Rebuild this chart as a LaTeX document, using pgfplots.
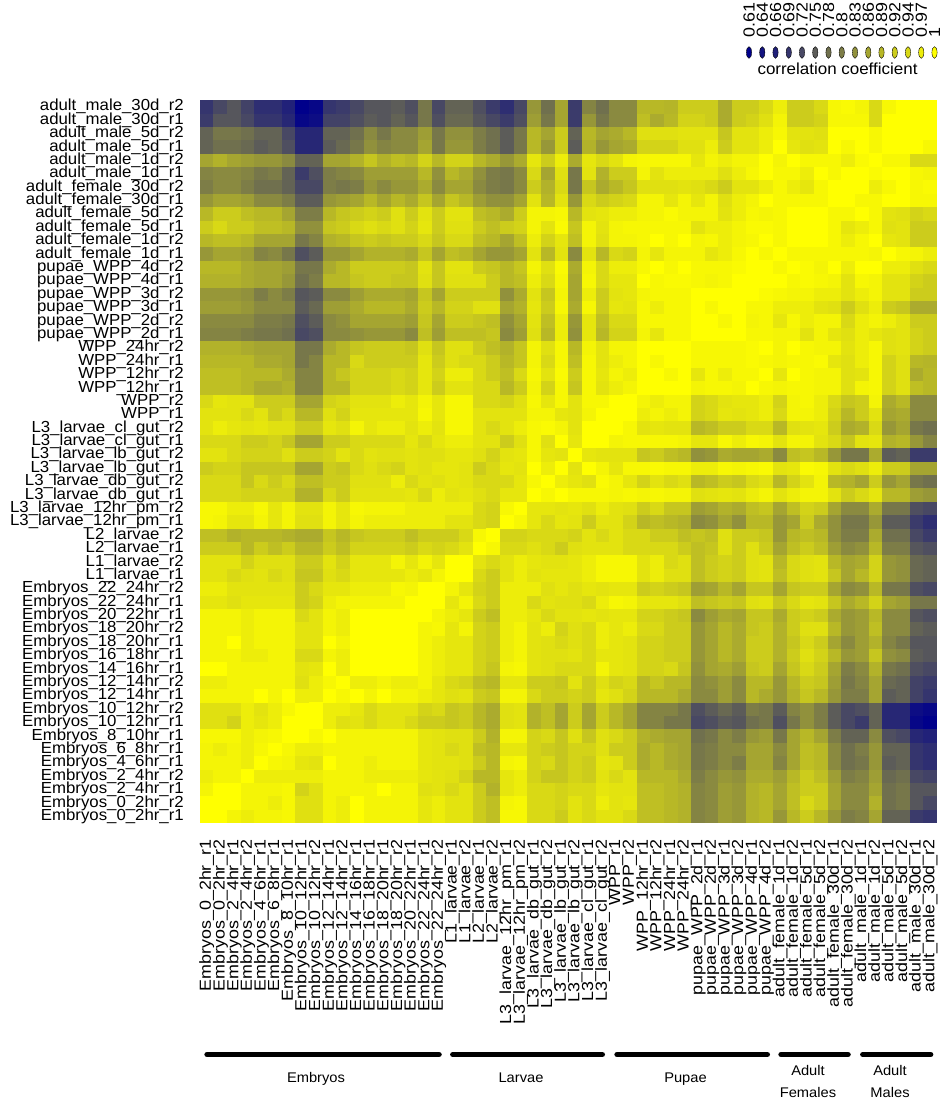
\documentclass[border=0pt]{standalone}
\usepackage{fontspec}
\setmainfont{Liberation Sans}
\usepackage{pgfplots}
\usepackage{pgfplotstable}
\pgfplotsset{compat=1.18}

% one heatmap cell (13.65 x 13.39 units, slightly oversized to avoid seams)
\pgfdeclareplotmark{cell}{%
  \pgfpathrectangle{\pgfpoint{-7.0pt}{-6.85pt}}{\pgfpoint{14.0pt}{13.7pt}}%
  \pgfusepathqfill}

\pgfplotsset{colormap={corr}{rgb255=(0,0,139) rgb255=(255,255,0)}}

% lower triangle (row i, column j <= i) of the sample correlation matrix
\pgfplotstableread[row sep=\\]{
i j v\\
0 0 1\\
1 0 1\\ 1 1 1\\
2 0 0.98\\ 2 1 1\\ 2 2 1\\
3 0 0.97\\ 3 1 0.98\\ 3 2 0.98\\ 3 3 1\\
4 0 0.98\\ 4 1 0.98\\ 4 2 0.98\\ 4 3 0.97\\ 4 4 1\\
5 0 0.98\\ 5 1 0.97\\ 5 2 0.98\\ 5 3 0.97\\ 5 4 0.985\\ 5 5 1\\
6 0 0.985\\ 6 1 0.985\\ 6 2 0.985\\ 6 3 0.97\\ 6 4 0.98\\ 6 5 0.985\\ 6 6 1\\
7 0 0.95\\ 7 1 0.95\\ 7 2 0.93\\ 7 3 0.97\\ 7 4 0.96\\ 7 5 0.97\\ 7 6 1\\ 7 7 1\\
8 0 0.95\\ 8 1 0.95\\ 8 2 0.95\\ 8 3 0.97\\ 8 4 0.955\\ 8 5 0.97\\ 8 6 0.985\\ 8 7 1\\ 8 8 1\\
9 0 0.98\\ 9 1 0.98\\ 9 2 0.98\\ 9 3 0.98\\ 9 4 1\\ 9 5 0.98\\ 9 6 1\\ 9 7 0.97\\ 9 8 0.97\\ 9 9 1\\
10 0 0.97\\ 10 1 0.97\\ 10 2 0.98\\ 10 3 0.98\\ 10 4 0.98\\ 10 5 0.98\\ 10 6 0.98\\ 10 7 0.95\\ 10 8 0.97\\ 10 9 0.985\\ 10 10 1\\
11 0 1\\ 11 1 1\\ 11 2 0.98\\ 11 3 0.98\\ 11 4 0.98\\ 11 5 0.98\\ 11 6 0.98\\ 11 7 0.955\\ 11 8 0.96\\ 11 9 1\\ 11 10 0.97\\ 11 11 1\\
12 0 0.98\\ 12 1 0.98\\ 12 2 0.98\\ 12 3 0.97\\ 12 4 0.97\\ 12 5 0.98\\ 12 6 0.98\\ 12 7 0.94\\ 12 8 0.94\\ 12 9 0.98\\ 12 10 0.97\\ 12 11 1\\ 12 12 1\\
13 0 0.98\\ 13 1 0.98\\ 13 2 1\\ 13 3 0.97\\ 13 4 0.98\\ 13 5 0.98\\ 13 6 0.98\\ 13 7 0.955\\ 13 8 0.955\\ 13 9 1\\ 13 10 0.98\\ 13 11 1\\ 13 12 1\\ 13 13 1\\
14 0 0.98\\ 14 1 0.98\\ 14 2 0.98\\ 14 3 0.97\\ 14 4 0.98\\ 14 5 0.98\\ 14 6 0.98\\ 14 7 0.955\\ 14 8 0.955\\ 14 9 0.98\\ 14 10 0.97\\ 14 11 1\\ 14 12 1\\ 14 13 1\\ 14 14 1\\
15 0 0.98\\ 15 1 0.98\\ 15 2 0.98\\ 15 3 0.97\\ 15 4 0.98\\ 15 5 0.98\\ 15 6 0.98\\ 15 7 0.94\\ 15 8 0.955\\ 15 9 0.98\\ 15 10 0.97\\ 15 11 1\\ 15 12 1\\ 15 13 1\\ 15 14 1\\ 15 15 1\\
16 0 0.96\\ 16 1 0.96\\ 16 2 0.95\\ 16 3 0.96\\ 16 4 0.96\\ 16 5 0.96\\ 16 6 0.96\\ 16 7 0.92\\ 16 8 0.93\\ 16 9 0.97\\ 16 10 0.98\\ 16 11 0.98\\ 16 12 0.98\\ 16 13 0.98\\ 16 14 0.98\\ 16 15 1\\ 16 16 1\\
17 0 0.97\\ 17 1 0.97\\ 17 2 0.955\\ 17 3 0.955\\ 17 4 0.955\\ 17 5 0.955\\ 17 6 0.955\\ 17 7 0.92\\ 17 8 0.94\\ 17 9 0.96\\ 17 10 0.96\\ 17 11 0.97\\ 17 12 0.97\\ 17 13 0.97\\ 17 14 0.985\\ 17 15 0.98\\ 17 16 1\\ 17 17 1\\
18 0 0.955\\ 18 1 0.955\\ 18 2 0.94\\ 18 3 0.95\\ 18 4 0.955\\ 18 5 0.94\\ 18 6 0.95\\ 18 7 0.91\\ 18 8 0.91\\ 18 9 0.95\\ 18 10 0.94\\ 18 11 0.96\\ 18 12 0.96\\ 18 13 0.96\\ 18 14 0.96\\ 18 15 0.97\\ 18 16 0.96\\ 18 17 0.98\\ 18 18 1\\
19 0 0.955\\ 19 1 0.955\\ 19 2 0.955\\ 19 3 0.93\\ 19 4 0.95\\ 19 5 0.95\\ 19 6 0.95\\ 19 7 0.92\\ 19 8 0.92\\ 19 9 0.955\\ 19 10 0.93\\ 19 11 0.96\\ 19 12 0.96\\ 19 13 0.96\\ 19 14 0.98\\ 19 15 0.96\\ 19 16 0.98\\ 19 17 0.96\\ 19 18 1\\ 19 19 1\\
20 0 0.92\\ 20 1 0.92\\ 20 2 0.92\\ 20 3 0.89\\ 20 4 0.92\\ 20 5 0.90\\ 20 6 0.92\\ 20 7 0.89\\ 20 8 0.89\\ 20 9 0.92\\ 20 10 0.90\\ 20 11 0.93\\ 20 12 0.93\\ 20 13 0.93\\ 20 14 0.93\\ 20 15 0.92\\ 20 16 0.94\\ 20 17 0.93\\ 20 18 0.94\\ 20 19 0.955\\ 20 20 1\\
21 0 0.90\\ 21 1 0.90\\ 21 2 0.88\\ 21 3 0.89\\ 21 4 0.89\\ 21 5 0.89\\ 21 6 0.88\\ 21 7 0.87\\ 21 8 0.87\\ 21 9 0.91\\ 21 10 0.89\\ 21 11 0.91\\ 21 12 0.92\\ 21 13 0.92\\ 21 14 0.92\\ 21 15 0.90\\ 21 16 0.92\\ 21 17 0.92\\ 21 18 0.92\\ 21 19 0.94\\ 21 20 0.985\\ 21 21 1\\
22 0 0.985\\ 22 1 0.98\\ 22 2 0.96\\ 22 3 0.96\\ 22 4 0.98\\ 22 5 0.96\\ 22 6 0.98\\ 22 7 0.95\\ 22 8 0.95\\ 22 9 0.98\\ 22 10 0.96\\ 22 11 0.98\\ 22 12 0.97\\ 22 13 0.97\\ 22 14 0.97\\ 22 15 0.97\\ 22 16 0.97\\ 22 17 0.97\\ 22 18 0.955\\ 22 19 0.955\\ 22 20 0.94\\ 22 21 0.93\\ 22 22 1\\
23 0 0.985\\ 23 1 0.985\\ 23 2 0.97\\ 23 3 0.97\\ 23 4 0.985\\ 23 5 0.96\\ 23 6 0.98\\ 23 7 0.955\\ 23 8 0.955\\ 23 9 0.98\\ 23 10 0.96\\ 23 11 0.985\\ 23 12 0.98\\ 23 13 0.98\\ 23 14 0.98\\ 23 15 0.97\\ 23 16 0.97\\ 23 17 0.97\\ 23 18 0.97\\ 23 19 0.97\\ 23 20 0.94\\ 23 21 0.93\\ 23 22 0.985\\ 23 23 1\\
24 0 0.94\\ 24 1 0.94\\ 24 2 0.94\\ 24 3 0.93\\ 24 4 0.93\\ 24 5 0.93\\ 24 6 0.93\\ 24 7 0.88\\ 24 8 0.88\\ 24 9 0.94\\ 24 10 0.92\\ 24 11 0.955\\ 24 12 0.955\\ 24 13 0.955\\ 24 14 0.955\\ 24 15 0.96\\ 24 16 0.94\\ 24 17 0.97\\ 24 18 0.955\\ 24 19 0.96\\ 24 20 0.95\\ 24 21 0.94\\ 24 22 0.96\\ 24 23 0.96\\ 24 24 1\\
25 0 0.94\\ 25 1 0.94\\ 25 2 0.94\\ 25 3 0.91\\ 25 4 0.94\\ 25 5 0.92\\ 25 6 0.94\\ 25 7 0.90\\ 25 8 0.90\\ 25 9 0.92\\ 25 10 0.92\\ 25 11 0.95\\ 25 12 0.95\\ 25 13 0.95\\ 25 14 0.97\\ 25 15 0.94\\ 25 16 0.955\\ 25 17 0.95\\ 25 18 0.96\\ 25 19 0.955\\ 25 20 0.94\\ 25 21 0.94\\ 25 22 0.94\\ 25 23 0.96\\ 25 24 0.985\\ 25 25 1\\
26 0 0.92\\ 26 1 0.93\\ 26 2 0.93\\ 26 3 0.91\\ 26 4 0.91\\ 26 5 0.91\\ 26 6 0.91\\ 26 7 0.86\\ 26 8 0.86\\ 26 9 0.92\\ 26 10 0.91\\ 26 11 0.94\\ 26 12 0.95\\ 26 13 0.94\\ 26 14 0.93\\ 26 15 0.955\\ 26 16 0.95\\ 26 17 0.96\\ 26 18 0.96\\ 26 19 0.955\\ 26 20 0.92\\ 26 21 0.94\\ 26 22 0.96\\ 26 23 0.955\\ 26 24 1\\ 26 25 0.97\\ 26 26 1\\
27 0 0.955\\ 27 1 0.955\\ 27 2 0.94\\ 27 3 0.93\\ 27 4 0.93\\ 27 5 0.93\\ 27 6 0.95\\ 27 7 0.92\\ 27 8 0.92\\ 27 9 0.93\\ 27 10 0.955\\ 27 11 0.94\\ 27 12 0.955\\ 27 13 0.95\\ 27 14 0.95\\ 27 15 0.955\\ 27 16 0.95\\ 27 17 0.95\\ 27 18 0.96\\ 27 19 0.96\\ 27 20 0.95\\ 27 21 0.93\\ 27 22 0.955\\ 27 23 0.96\\ 27 24 0.985\\ 27 25 0.96\\ 27 26 0.955\\ 27 27 1\\
28 0 0.94\\ 28 1 0.94\\ 28 2 0.94\\ 28 3 0.92\\ 28 4 0.92\\ 28 5 0.93\\ 28 6 0.91\\ 28 7 0.86\\ 28 8 0.86\\ 28 9 0.92\\ 28 10 0.92\\ 28 11 0.94\\ 28 12 0.94\\ 28 13 0.94\\ 28 14 0.94\\ 28 15 0.96\\ 28 16 0.94\\ 28 17 0.96\\ 28 18 0.97\\ 28 19 0.97\\ 28 20 0.955\\ 28 21 0.955\\ 28 22 0.92\\ 28 23 0.95\\ 28 24 0.985\\ 28 25 0.95\\ 28 26 1\\ 28 27 0.96\\ 28 28 1\\
29 0 0.955\\ 29 1 0.97\\ 29 2 0.96\\ 29 3 0.955\\ 29 4 0.96\\ 29 5 0.95\\ 29 6 0.95\\ 29 7 0.92\\ 29 8 0.92\\ 29 9 0.96\\ 29 10 0.95\\ 29 11 0.98\\ 29 12 0.96\\ 29 13 0.97\\ 29 14 0.97\\ 29 15 0.955\\ 29 16 0.97\\ 29 17 0.955\\ 29 18 0.985\\ 29 19 0.985\\ 29 20 0.955\\ 29 21 0.94\\ 29 22 0.955\\ 29 23 0.97\\ 29 24 0.985\\ 29 25 0.99\\ 29 26 0.98\\ 29 27 0.955\\ 29 28 1\\ 29 29 1\\
30 0 0.955\\ 30 1 0.955\\ 30 2 0.955\\ 30 3 0.94\\ 30 4 0.955\\ 30 5 0.92\\ 30 6 0.94\\ 30 7 0.89\\ 30 8 0.89\\ 30 9 0.95\\ 30 10 0.93\\ 30 11 0.96\\ 30 12 0.96\\ 30 13 0.96\\ 30 14 0.96\\ 30 15 0.96\\ 30 16 0.985\\ 30 17 0.96\\ 30 18 0.985\\ 30 19 0.985\\ 30 20 0.955\\ 30 21 0.955\\ 30 22 0.955\\ 30 23 0.955\\ 30 24 0.98\\ 30 25 0.98\\ 30 26 0.96\\ 30 27 0.955\\ 30 28 0.98\\ 30 29 1\\ 30 30 1\\
31 0 0.94\\ 31 1 0.96\\ 31 2 0.955\\ 31 3 0.955\\ 31 4 0.92\\ 31 5 0.92\\ 31 6 0.92\\ 31 7 0.86\\ 31 8 0.86\\ 31 9 0.93\\ 31 10 0.94\\ 31 11 0.955\\ 31 12 0.955\\ 31 13 0.955\\ 31 14 0.97\\ 31 15 0.96\\ 31 16 0.98\\ 31 17 0.96\\ 31 18 0.985\\ 31 19 0.985\\ 31 20 0.94\\ 31 21 0.94\\ 31 22 0.93\\ 31 23 0.95\\ 31 24 0.985\\ 31 25 0.96\\ 31 26 0.985\\ 31 27 0.955\\ 31 28 0.985\\ 31 29 0.985\\ 31 30 1\\ 31 31 1\\
32 0 0.90\\ 32 1 0.90\\ 32 2 0.90\\ 32 3 0.89\\ 32 4 0.87\\ 32 5 0.87\\ 32 6 0.88\\ 32 7 0.81\\ 32 8 0.81\\ 32 9 0.89\\ 32 10 0.89\\ 32 11 0.93\\ 32 12 0.93\\ 32 13 0.93\\ 32 14 0.94\\ 32 15 0.93\\ 32 16 0.96\\ 32 17 0.92\\ 32 18 0.955\\ 32 19 0.955\\ 32 20 0.94\\ 32 21 0.94\\ 32 22 0.89\\ 32 23 0.92\\ 32 24 0.98\\ 32 25 0.93\\ 32 26 0.985\\ 32 27 0.91\\ 32 28 0.985\\ 32 29 0.955\\ 32 30 0.97\\ 32 31 0.98\\ 32 32 1\\
33 0 0.90\\ 33 1 0.90\\ 33 2 0.90\\ 33 3 0.89\\ 33 4 0.89\\ 33 5 0.89\\ 33 6 0.87\\ 33 7 0.81\\ 33 8 0.81\\ 33 9 0.89\\ 33 10 0.91\\ 33 11 0.93\\ 33 12 0.93\\ 33 13 0.93\\ 33 14 0.94\\ 33 15 0.93\\ 33 16 0.96\\ 33 17 0.93\\ 33 18 0.97\\ 33 19 0.97\\ 33 20 0.94\\ 33 21 0.92\\ 33 22 0.90\\ 33 23 0.94\\ 33 24 0.985\\ 33 25 0.955\\ 33 26 0.99\\ 33 27 0.92\\ 33 28 0.985\\ 33 29 0.96\\ 33 30 0.98\\ 33 31 0.97\\ 33 32 1\\ 33 33 1\\
34 0 0.89\\ 34 1 0.89\\ 34 2 0.89\\ 34 3 0.89\\ 34 4 0.87\\ 34 5 0.87\\ 34 6 0.86\\ 34 7 0.79\\ 34 8 0.81\\ 34 9 0.89\\ 34 10 0.89\\ 34 11 0.94\\ 34 12 0.92\\ 34 13 0.92\\ 34 14 0.92\\ 34 15 0.92\\ 34 16 0.96\\ 34 17 0.92\\ 34 18 0.95\\ 34 19 0.94\\ 34 20 0.94\\ 34 21 0.92\\ 34 22 0.89\\ 34 23 0.91\\ 34 24 0.98\\ 34 25 0.94\\ 34 26 0.985\\ 34 27 0.90\\ 34 28 0.985\\ 34 29 0.955\\ 34 30 0.97\\ 34 31 0.98\\ 34 32 1\\ 34 33 0.985\\ 34 34 1\\
35 0 0.88\\ 35 1 0.88\\ 35 2 0.88\\ 35 3 0.87\\ 35 4 0.86\\ 35 5 0.86\\ 35 6 0.86\\ 35 7 0.79\\ 35 8 0.79\\ 35 9 0.87\\ 35 10 0.89\\ 35 11 0.91\\ 35 12 0.92\\ 35 13 0.92\\ 35 14 0.92\\ 35 15 0.91\\ 35 16 0.95\\ 35 17 0.91\\ 35 18 0.95\\ 35 19 0.95\\ 35 20 0.92\\ 35 21 0.90\\ 35 22 0.88\\ 35 23 0.91\\ 35 24 0.98\\ 35 25 0.95\\ 35 26 0.985\\ 35 27 0.89\\ 35 28 0.98\\ 35 29 0.955\\ 35 30 0.98\\ 35 31 0.98\\ 35 32 1\\ 35 33 1\\ 35 34 1\\ 35 35 1\\
36 0 0.81\\ 36 1 0.81\\ 36 2 0.81\\ 36 3 0.80\\ 36 4 0.79\\ 36 5 0.79\\ 36 6 0.78\\ 36 7 0.72\\ 36 8 0.73\\ 36 9 0.82\\ 36 10 0.82\\ 36 11 0.83\\ 36 12 0.84\\ 36 13 0.84\\ 36 14 0.84\\ 36 15 0.82\\ 36 16 0.90\\ 36 17 0.85\\ 36 18 0.90\\ 36 19 0.90\\ 36 20 0.90\\ 36 21 0.91\\ 36 22 0.82\\ 36 23 0.85\\ 36 24 0.95\\ 36 25 0.89\\ 36 26 0.97\\ 36 27 0.83\\ 36 28 0.96\\ 36 29 0.89\\ 36 30 0.93\\ 36 31 0.93\\ 36 32 0.98\\ 36 33 0.96\\ 36 34 0.985\\ 36 35 0.985\\ 36 36 1\\
37 0 0.82\\ 37 1 0.82\\ 37 2 0.82\\ 37 3 0.82\\ 37 4 0.80\\ 37 5 0.80\\ 37 6 0.79\\ 37 7 0.73\\ 37 8 0.75\\ 37 9 0.82\\ 37 10 0.83\\ 37 11 0.86\\ 37 12 0.86\\ 37 13 0.86\\ 37 14 0.86\\ 37 15 0.85\\ 37 16 0.91\\ 37 17 0.86\\ 37 18 0.92\\ 37 19 0.92\\ 37 20 0.91\\ 37 21 0.90\\ 37 22 0.83\\ 37 23 0.86\\ 37 24 0.955\\ 37 25 0.90\\ 37 26 0.97\\ 37 27 0.84\\ 37 28 0.96\\ 37 29 0.90\\ 37 30 0.94\\ 37 31 0.94\\ 37 32 0.985\\ 37 33 0.985\\ 37 34 0.985\\ 37 35 0.985\\ 37 36 1\\ 37 37 1\\
38 0 0.85\\ 38 1 0.85\\ 38 2 0.85\\ 38 3 0.84\\ 38 4 0.82\\ 38 5 0.82\\ 38 6 0.82\\ 38 7 0.75\\ 38 8 0.77\\ 38 9 0.85\\ 38 10 0.85\\ 38 11 0.87\\ 38 12 0.89\\ 38 13 0.89\\ 38 14 0.89\\ 38 15 0.87\\ 38 16 0.92\\ 38 17 0.89\\ 38 18 0.93\\ 38 19 0.93\\ 38 20 0.95\\ 38 21 0.95\\ 38 22 0.86\\ 38 23 0.88\\ 38 24 0.96\\ 38 25 0.92\\ 38 26 0.985\\ 38 27 0.87\\ 38 28 0.985\\ 38 29 0.92\\ 38 30 0.96\\ 38 31 0.955\\ 38 32 0.985\\ 38 33 0.97\\ 38 34 0.985\\ 38 35 0.985\\ 38 36 1\\ 38 37 0.985\\ 38 38 1\\
39 0 0.84\\ 39 1 0.84\\ 39 2 0.84\\ 39 3 0.83\\ 39 4 0.80\\ 39 5 0.82\\ 39 6 0.80\\ 39 7 0.74\\ 39 8 0.75\\ 39 9 0.82\\ 39 10 0.82\\ 39 11 0.85\\ 39 12 0.87\\ 39 13 0.87\\ 39 14 0.87\\ 39 15 0.86\\ 39 16 0.91\\ 39 17 0.86\\ 39 18 0.92\\ 39 19 0.92\\ 39 20 0.92\\ 39 21 0.92\\ 39 22 0.83\\ 39 23 0.87\\ 39 24 0.955\\ 39 25 0.91\\ 39 26 0.98\\ 39 27 0.86\\ 39 28 0.97\\ 39 29 0.92\\ 39 30 0.955\\ 39 31 0.96\\ 39 32 0.98\\ 39 33 0.985\\ 39 34 0.985\\ 39 35 0.985\\ 39 36 1\\ 39 37 1\\ 39 38 1\\ 39 39 1\\
40 0 0.88\\ 40 1 0.88\\ 40 2 0.88\\ 40 3 0.87\\ 40 4 0.86\\ 40 5 0.86\\ 40 6 0.84\\ 40 7 0.78\\ 40 8 0.80\\ 40 9 0.89\\ 40 10 0.89\\ 40 11 0.91\\ 40 12 0.92\\ 40 13 0.92\\ 40 14 0.91\\ 40 15 0.91\\ 40 16 0.95\\ 40 17 0.91\\ 40 18 0.95\\ 40 19 0.95\\ 40 20 0.95\\ 40 21 0.92\\ 40 22 0.89\\ 40 23 0.90\\ 40 24 0.97\\ 40 25 0.94\\ 40 26 0.985\\ 40 27 0.86\\ 40 28 0.985\\ 40 29 0.94\\ 40 30 0.96\\ 40 31 0.96\\ 40 32 1\\ 40 33 0.985\\ 40 34 0.99\\ 40 35 0.99\\ 40 36 0.985\\ 40 37 0.98\\ 40 38 0.985\\ 40 39 1\\ 40 40 1\\
41 0 0.89\\ 41 1 0.89\\ 41 2 0.89\\ 41 3 0.87\\ 41 4 0.86\\ 41 5 0.86\\ 41 6 0.85\\ 41 7 0.79\\ 41 8 0.79\\ 41 9 0.87\\ 41 10 0.89\\ 41 11 0.92\\ 41 12 0.92\\ 41 13 0.92\\ 41 14 0.92\\ 41 15 0.91\\ 41 16 0.955\\ 41 17 0.91\\ 41 18 0.955\\ 41 19 0.955\\ 41 20 0.92\\ 41 21 0.91\\ 41 22 0.89\\ 41 23 0.91\\ 41 24 0.98\\ 41 25 0.95\\ 41 26 0.99\\ 41 27 0.87\\ 41 28 0.98\\ 41 29 0.94\\ 41 30 0.97\\ 41 31 0.97\\ 41 32 0.985\\ 41 33 1\\ 41 34 0.985\\ 41 35 1\\ 41 36 0.985\\ 41 37 0.985\\ 41 38 0.985\\ 41 39 0.99\\ 41 40 1\\ 41 41 1\\
42 0 0.84\\ 42 1 0.86\\ 42 2 0.86\\ 42 3 0.85\\ 42 4 0.81\\ 42 5 0.82\\ 42 6 0.79\\ 42 7 0.73\\ 42 8 0.75\\ 42 9 0.84\\ 42 10 0.84\\ 42 11 0.86\\ 42 12 0.88\\ 42 13 0.88\\ 42 14 0.88\\ 42 15 0.87\\ 42 16 0.91\\ 42 17 0.86\\ 42 18 0.90\\ 42 19 0.89\\ 42 20 0.86\\ 42 21 0.84\\ 42 22 0.84\\ 42 23 0.86\\ 42 24 0.955\\ 42 25 0.89\\ 42 26 0.955\\ 42 27 0.82\\ 42 28 0.955\\ 42 29 0.89\\ 42 30 0.94\\ 42 31 0.93\\ 42 32 0.98\\ 42 33 0.96\\ 42 34 0.98\\ 42 35 0.98\\ 42 36 0.98\\ 42 37 0.96\\ 42 38 0.97\\ 42 39 0.985\\ 42 40 1\\ 42 41 0.985\\ 42 42 1\\
43 0 0.89\\ 43 1 0.90\\ 43 2 0.90\\ 43 3 0.89\\ 43 4 0.86\\ 43 5 0.86\\ 43 6 0.86\\ 43 7 0.79\\ 43 8 0.81\\ 43 9 0.88\\ 43 10 0.89\\ 43 11 0.91\\ 43 12 0.92\\ 43 13 0.91\\ 43 14 0.92\\ 43 15 0.92\\ 43 16 0.94\\ 43 17 0.91\\ 43 18 0.94\\ 43 19 0.94\\ 43 20 0.90\\ 43 21 0.89\\ 43 22 0.86\\ 43 23 0.90\\ 43 24 0.97\\ 43 25 0.93\\ 43 26 0.96\\ 43 27 0.90\\ 43 28 0.98\\ 43 29 0.95\\ 43 30 0.98\\ 43 31 0.98\\ 43 32 0.985\\ 43 33 1\\ 43 34 0.985\\ 43 35 1\\ 43 36 0.98\\ 43 37 0.985\\ 43 38 0.97\\ 43 39 0.98\\ 43 40 0.985\\ 43 41 1\\ 43 42 0.985\\ 43 43 1\\
44 0 0.92\\ 44 1 0.94\\ 44 2 0.92\\ 44 3 0.92\\ 44 4 0.90\\ 44 5 0.90\\ 44 6 0.89\\ 44 7 0.83\\ 44 8 0.83\\ 44 9 0.91\\ 44 10 0.92\\ 44 11 0.94\\ 44 12 0.95\\ 44 13 0.94\\ 44 14 0.95\\ 44 15 0.93\\ 44 16 0.96\\ 44 17 0.92\\ 44 18 0.95\\ 44 19 0.95\\ 44 20 0.92\\ 44 21 0.90\\ 44 22 0.92\\ 44 23 0.93\\ 44 24 0.98\\ 44 25 0.955\\ 44 26 0.99\\ 44 27 0.91\\ 44 28 0.98\\ 44 29 0.955\\ 44 30 0.98\\ 44 31 0.985\\ 44 32 0.985\\ 44 33 0.985\\ 44 34 0.985\\ 44 35 0.985\\ 44 36 0.955\\ 44 37 0.97\\ 44 38 0.97\\ 44 39 0.98\\ 44 40 0.99\\ 44 41 0.99\\ 44 42 0.985\\ 44 43 1\\ 44 44 1\\
45 0 0.89\\ 45 1 0.92\\ 45 2 0.92\\ 45 3 0.90\\ 45 4 0.89\\ 45 5 0.89\\ 45 6 0.86\\ 45 7 0.80\\ 45 8 0.80\\ 45 9 0.89\\ 45 10 0.91\\ 45 11 0.92\\ 45 12 0.93\\ 45 13 0.92\\ 45 14 0.95\\ 45 15 0.92\\ 45 16 0.955\\ 45 17 0.92\\ 45 18 0.955\\ 45 19 0.955\\ 45 20 0.90\\ 45 21 0.89\\ 45 22 0.87\\ 45 23 0.92\\ 45 24 0.98\\ 45 25 0.98\\ 45 26 0.985\\ 45 27 0.89\\ 45 28 0.955\\ 45 29 0.96\\ 45 30 0.97\\ 45 31 0.97\\ 45 32 0.98\\ 45 33 0.98\\ 45 34 0.99\\ 45 35 0.98\\ 45 36 0.98\\ 45 37 0.98\\ 45 38 0.955\\ 45 39 0.97\\ 45 40 0.985\\ 45 41 0.98\\ 45 42 0.985\\ 45 43 1\\ 45 44 1\\ 45 45 1\\
46 0 0.84\\ 46 1 0.86\\ 46 2 0.86\\ 46 3 0.85\\ 46 4 0.82\\ 46 5 0.82\\ 46 6 0.80\\ 46 7 0.75\\ 46 8 0.75\\ 46 9 0.84\\ 46 10 0.85\\ 46 11 0.86\\ 46 12 0.89\\ 46 13 0.86\\ 46 14 0.89\\ 46 15 0.87\\ 46 16 0.91\\ 46 17 0.86\\ 46 18 0.91\\ 46 19 0.89\\ 46 20 0.85\\ 46 21 0.83\\ 46 22 0.83\\ 46 23 0.86\\ 46 24 0.955\\ 46 25 0.89\\ 46 26 0.955\\ 46 27 0.84\\ 46 28 0.94\\ 46 29 0.92\\ 46 30 0.93\\ 46 31 0.94\\ 46 32 0.98\\ 46 33 0.98\\ 46 34 0.96\\ 46 35 0.98\\ 46 36 0.96\\ 46 37 0.98\\ 46 38 0.95\\ 46 39 0.97\\ 46 40 0.98\\ 46 41 1\\ 46 42 0.985\\ 46 43 0.985\\ 46 44 0.985\\ 46 45 0.985\\ 46 46 1\\
47 0 0.80\\ 47 1 0.82\\ 47 2 0.82\\ 47 3 0.80\\ 47 4 0.78\\ 47 5 0.78\\ 47 6 0.76\\ 47 7 0.72\\ 47 8 0.72\\ 47 9 0.80\\ 47 10 0.79\\ 47 11 0.80\\ 47 12 0.84\\ 47 13 0.82\\ 47 14 0.84\\ 47 15 0.84\\ 47 16 0.87\\ 47 17 0.82\\ 47 18 0.86\\ 47 19 0.86\\ 47 20 0.82\\ 47 21 0.80\\ 47 22 0.79\\ 47 23 0.82\\ 47 24 0.92\\ 47 25 0.88\\ 47 26 0.94\\ 47 27 0.79\\ 47 28 0.91\\ 47 29 0.87\\ 47 30 0.89\\ 47 31 0.91\\ 47 32 0.95\\ 47 33 0.95\\ 47 34 0.95\\ 47 35 0.955\\ 47 36 0.95\\ 47 37 0.94\\ 47 38 0.92\\ 47 39 0.955\\ 47 40 0.955\\ 47 41 0.97\\ 47 42 0.985\\ 47 43 0.97\\ 47 44 0.96\\ 47 45 0.985\\ 47 46 1\\ 47 47 1\\
48 0 0.81\\ 48 1 0.82\\ 48 2 0.82\\ 48 3 0.81\\ 48 4 0.79\\ 48 5 0.80\\ 48 6 0.76\\ 48 7 0.70\\ 48 8 0.73\\ 48 9 0.80\\ 48 10 0.81\\ 48 11 0.82\\ 48 12 0.85\\ 48 13 0.85\\ 48 14 0.85\\ 48 15 0.85\\ 48 16 0.89\\ 48 17 0.83\\ 48 18 0.89\\ 48 19 0.87\\ 48 20 0.83\\ 48 21 0.80\\ 48 22 0.79\\ 48 23 0.82\\ 48 24 0.94\\ 48 25 0.86\\ 48 26 0.95\\ 48 27 0.79\\ 48 28 0.955\\ 48 29 0.88\\ 48 30 0.92\\ 48 31 0.92\\ 48 32 0.98\\ 48 33 0.955\\ 48 34 0.97\\ 48 35 0.97\\ 48 36 0.97\\ 48 37 0.97\\ 48 38 0.95\\ 48 39 0.97\\ 48 40 0.985\\ 48 41 1\\ 48 42 0.985\\ 48 43 0.985\\ 48 44 0.97\\ 48 45 1\\ 48 46 0.985\\ 48 47 1\\ 48 48 1\\
49 0 0.86\\ 49 1 0.88\\ 49 2 0.86\\ 49 3 0.85\\ 49 4 0.84\\ 49 5 0.84\\ 49 6 0.82\\ 49 7 0.76\\ 49 8 0.76\\ 49 9 0.86\\ 49 10 0.86\\ 49 11 0.88\\ 49 12 0.91\\ 49 13 0.88\\ 49 14 0.90\\ 49 15 0.89\\ 49 16 0.93\\ 49 17 0.89\\ 49 18 0.93\\ 49 19 0.93\\ 49 20 0.89\\ 49 21 0.87\\ 49 22 0.84\\ 49 23 0.87\\ 49 24 0.96\\ 49 25 0.92\\ 49 26 0.97\\ 49 27 0.87\\ 49 28 0.96\\ 49 29 0.94\\ 49 30 0.955\\ 49 31 0.98\\ 49 32 0.985\\ 49 33 0.985\\ 49 34 0.985\\ 49 35 0.985\\ 49 36 0.96\\ 49 37 0.98\\ 49 38 0.97\\ 49 39 0.98\\ 49 40 0.98\\ 49 41 1\\ 49 42 0.98\\ 49 43 1\\ 49 44 0.985\\ 49 45 0.985\\ 49 46 0.985\\ 49 47 0.97\\ 49 48 0.99\\ 49 49 1\\
50 0 0.76\\ 50 1 0.78\\ 50 2 0.78\\ 50 3 0.77\\ 50 4 0.75\\ 50 5 0.76\\ 50 6 0.73\\ 50 7 0.67\\ 50 8 0.67\\ 50 9 0.75\\ 50 10 0.77\\ 50 11 0.79\\ 50 12 0.83\\ 50 13 0.81\\ 50 14 0.82\\ 50 15 0.82\\ 50 16 0.86\\ 50 17 0.79\\ 50 18 0.84\\ 50 19 0.84\\ 50 20 0.80\\ 50 21 0.78\\ 50 22 0.75\\ 50 23 0.79\\ 50 24 0.89\\ 50 25 0.84\\ 50 26 0.92\\ 50 27 0.75\\ 50 28 0.88\\ 50 29 0.84\\ 50 30 0.86\\ 50 31 0.87\\ 50 32 0.93\\ 50 33 0.93\\ 50 34 0.93\\ 50 35 0.95\\ 50 36 0.95\\ 50 37 0.97\\ 50 38 0.92\\ 50 39 0.955\\ 50 40 0.955\\ 50 41 0.97\\ 50 42 1\\ 50 43 0.96\\ 50 44 0.95\\ 50 45 0.955\\ 50 46 1\\ 50 47 0.985\\ 50 48 1\\ 50 49 0.985\\ 50 50 1\\
51 0 0.76\\ 51 1 0.79\\ 51 2 0.79\\ 51 3 0.78\\ 51 4 0.76\\ 51 5 0.76\\ 51 6 0.72\\ 51 7 0.67\\ 51 8 0.67\\ 51 9 0.76\\ 51 10 0.76\\ 51 11 0.78\\ 51 12 0.82\\ 51 13 0.79\\ 51 14 0.82\\ 51 15 0.82\\ 51 16 0.85\\ 51 17 0.79\\ 51 18 0.83\\ 51 19 0.83\\ 51 20 0.80\\ 51 21 0.78\\ 51 22 0.75\\ 51 23 0.79\\ 51 24 0.89\\ 51 25 0.86\\ 51 26 0.92\\ 51 27 0.76\\ 51 28 0.89\\ 51 29 0.86\\ 51 30 0.87\\ 51 31 0.89\\ 51 32 0.95\\ 51 33 0.95\\ 51 34 0.95\\ 51 35 0.955\\ 51 36 0.955\\ 51 37 0.955\\ 51 38 0.91\\ 51 39 0.955\\ 51 40 0.955\\ 51 41 0.97\\ 51 42 0.985\\ 51 43 0.955\\ 51 44 0.955\\ 51 45 0.95\\ 51 46 1\\ 51 47 1\\ 51 48 1\\ 51 49 0.985\\ 51 50 1\\ 51 51 1\\
52 0 0.70\\ 52 1 0.74\\ 52 2 0.74\\ 52 3 0.72\\ 52 4 0.69\\ 52 5 0.69\\ 52 6 0.67\\ 52 7 0.62\\ 52 8 0.63\\ 52 9 0.71\\ 52 10 0.71\\ 52 11 0.73\\ 52 12 0.75\\ 52 13 0.74\\ 52 14 0.76\\ 52 15 0.74\\ 52 16 0.79\\ 52 17 0.73\\ 52 18 0.77\\ 52 19 0.77\\ 52 20 0.74\\ 52 21 0.72\\ 52 22 0.70\\ 52 23 0.73\\ 52 24 0.85\\ 52 25 0.79\\ 52 26 0.86\\ 52 27 0.70\\ 52 28 0.84\\ 52 29 0.79\\ 52 30 0.82\\ 52 31 0.82\\ 52 32 0.90\\ 52 33 0.87\\ 52 34 0.89\\ 52 35 0.93\\ 52 36 0.93\\ 52 37 0.92\\ 52 38 0.87\\ 52 39 0.92\\ 52 40 0.93\\ 52 41 0.95\\ 52 42 0.98\\ 52 43 0.92\\ 52 44 0.92\\ 52 45 0.93\\ 52 46 0.985\\ 52 47 0.985\\ 52 48 0.985\\ 52 49 0.94\\ 52 50 1\\ 52 51 1\\ 52 52 1\\
53 0 0.69\\ 53 1 0.72\\ 53 2 0.74\\ 53 3 0.71\\ 53 4 0.68\\ 53 5 0.68\\ 53 6 0.66\\ 53 7 0.61\\ 53 8 0.62\\ 53 9 0.69\\ 53 10 0.70\\ 53 11 0.72\\ 53 12 0.74\\ 53 13 0.74\\ 53 14 0.75\\ 53 15 0.73\\ 53 16 0.79\\ 53 17 0.72\\ 53 18 0.76\\ 53 19 0.76\\ 53 20 0.73\\ 53 21 0.70\\ 53 22 0.68\\ 53 23 0.72\\ 53 24 0.84\\ 53 25 0.78\\ 53 26 0.86\\ 53 27 0.70\\ 53 28 0.81\\ 53 29 0.78\\ 53 30 0.82\\ 53 31 0.82\\ 53 32 0.89\\ 53 33 0.89\\ 53 34 0.885\\ 53 35 0.92\\ 53 36 0.92\\ 53 37 0.92\\ 53 38 0.87\\ 53 39 0.92\\ 53 40 0.92\\ 53 41 0.94\\ 53 42 0.97\\ 53 43 0.92\\ 53 44 0.92\\ 53 45 0.94\\ 53 46 0.985\\ 53 47 0.99\\ 53 48 0.98\\ 53 49 0.94\\ 53 50 0.985\\ 53 51 1\\ 53 52 1\\ 53 53 1\\
}\corr

\def\samplelabels{Embryos\_0\_2hr\_r1,Embryos\_0\_2hr\_r2,Embryos\_2\_4hr\_r1,Embryos\_2\_4hr\_r2,Embryos\_4\_6hr\_r1,Embryos\_6\_8hr\_r1,Embryos\_8\_10hr\_r1,Embryos\_10\_12hr\_r1,Embryos\_10\_12hr\_r2,Embryos\_12\_14hr\_r1,Embryos\_12\_14hr\_r2,Embryos\_14\_16hr\_r1,Embryos\_16\_18hr\_r1,Embryos\_18\_20hr\_r1,Embryos\_18\_20hr\_r2,Embryos\_20\_22hr\_r1,Embryos\_22\_24hr\_r1,Embryos\_22\_24hr\_r2,L1\_larvae\_r1,L1\_larvae\_r2,L2\_larvae\_r1,L2\_larvae\_r2,L3\_larvae\_12hr\_pm\_r1,L3\_larvae\_12hr\_pm\_r2,L3\_larvae\_db\_gut\_r1,L3\_larvae\_db\_gut\_r2,L3\_larvae\_lb\_gut\_r1,L3\_larvae\_lb\_gut\_r2,L3\_larvae\_cl\_gut\_r1,L3\_larvae\_cl\_gut\_r2,WPP\_r1,WPP\_r2,WPP\_12hr\_r1,WPP\_12hr\_r2,WPP\_24hr\_r1,WPP\_24hr\_r2,pupae\_WPP\_2d\_r1,pupae\_WPP\_2d\_r2,pupae\_WPP\_3d\_r1,pupae\_WPP\_3d\_r2,pupae\_WPP\_4d\_r1,pupae\_WPP\_4d\_r2,adult\_female\_1d\_r1,adult\_female\_1d\_r2,adult\_female\_5d\_r1,adult\_female\_5d\_r2,adult\_female\_30d\_r1,adult\_female\_30d\_r2,adult\_male\_1d\_r1,adult\_male\_1d\_r2,adult\_male\_5d\_r1,adult\_male\_5d\_r2,adult\_male\_30d\_r1,adult\_male\_30d\_r2}

\newcommand\lblfont{\fontsize{16}{17}\selectfont}
\newcommand\grpfont{\fontsize{14}{16}\selectfont}

\begin{document}
\begin{tikzpicture}
\useasboundingbox (0,0) rectangle (940pt,1102pt);

% correlation heatmap
\begin{axis}[
  at={(200pt,279pt)}, anchor=south west,
  x=13.648pt, y=13.389pt,
  xmin=-0.5, xmax=53.5, ymin=-0.5, ymax=53.5,
  axis line style={draw=none}, major tick length=0pt,
  xtick={0,...,53}, ytick={0,...,53},
  xticklabels/.expand once=\samplelabels,
  yticklabels/.expand once=\samplelabels,
  xticklabel style={yshift=-16pt, rotate=90, anchor=east, inner sep=0pt, font=\lblfont, xscale=1.117},
  yticklabel style={xshift=-16pt, anchor=east, inner sep=0pt, font=\lblfont, xscale=1.05},
  colormap name=corr, point meta min=0.61, point meta max=1,
  scatter/use mapped color={draw=mapped color, fill=mapped color},
  clip=false,
]
\addplot[scatter, only marks, mark=cell, scatter src=explicit]
  table[x=j, y=i, meta=v] {\corr};
\addplot[scatter, only marks, mark=cell, scatter src=explicit]
  table[x=i, y=j, meta=v] {\corr};
\end{axis}

% colour key
\begin{axis}[
  at={(749pt,1044.5pt)}, anchor=south west,
  x=13.25pt, y=10pt, xmin=0, xmax=14, ymin=0, ymax=1,
  axis line style={draw=none}, major tick length=0pt,
  xtick={0,...,14}, ytick=\empty,
  xticklabel pos=upper,
  xticklabels={0.61,0.64,0.66,0.69,0.72,0.75,0.78,0.8,0.83,0.86,0.89,0.92,0.94,0.97,1},
  xticklabel style={yshift=10pt, rotate=90, anchor=west, inner sep=0pt, font=\lblfont, xscale=1.117},
  colormap name=corr, point meta min=0.61, point meta max=1,
  scatter/use mapped color={draw=none, fill=mapped color},
  clip=false,
]
\addplot[scatter, only marks, mark=*, mark size=2.6pt, scatter src=explicit,
  every mark/.append style={yscale=2.25}]
  table[x=k, y=y, meta=c] {
k y c
0 0.5 0.61
1 0.5 0.64
2 0.5 0.66
3 0.5 0.69
4 0.5 0.72
5 0.5 0.75
6 0.5 0.78
7 0.5 0.80
8 0.5 0.83
9 0.5 0.86
10 0.5 0.89
11 0.5 0.92
12 0.5 0.94
13 0.5 0.97
14 0.5 1.00
};
\end{axis}
\node[anchor=base, font=\lblfont, xscale=1.06] at (837.5pt,1027pt) {correlation coefficient};

% developmental stage groups
\begin{scope}[line width=5.7pt, line cap=round]
  \draw (207.2pt,47.5pt) -- (438.9pt,47.5pt);
  \draw (452.9pt,47.5pt) -- (602.2pt,47.5pt);
  \draw (617.2pt,47.5pt) -- (767.2pt,47.5pt);
  \draw (781.2pt,47.5pt) -- (847.9pt,47.5pt);
  \draw (862.9pt,47.5pt) -- (930.5pt,47.5pt);
\end{scope}
\begin{scope}[every node/.style={anchor=base, font=\grpfont, xscale=1.05}]
  \node at (316pt,19pt) {Embryos};
  \node at (521pt,19pt) {Larvae};
  \node at (685.5pt,19pt) {Pupae};
  \node at (808pt,27pt) {Adult};
  \node at (808pt,5pt) {Females};
  \node at (890pt,27pt) {Adult};
  \node at (890pt,5pt) {Males};
\end{scope}
\end{tikzpicture}
\end{document}
